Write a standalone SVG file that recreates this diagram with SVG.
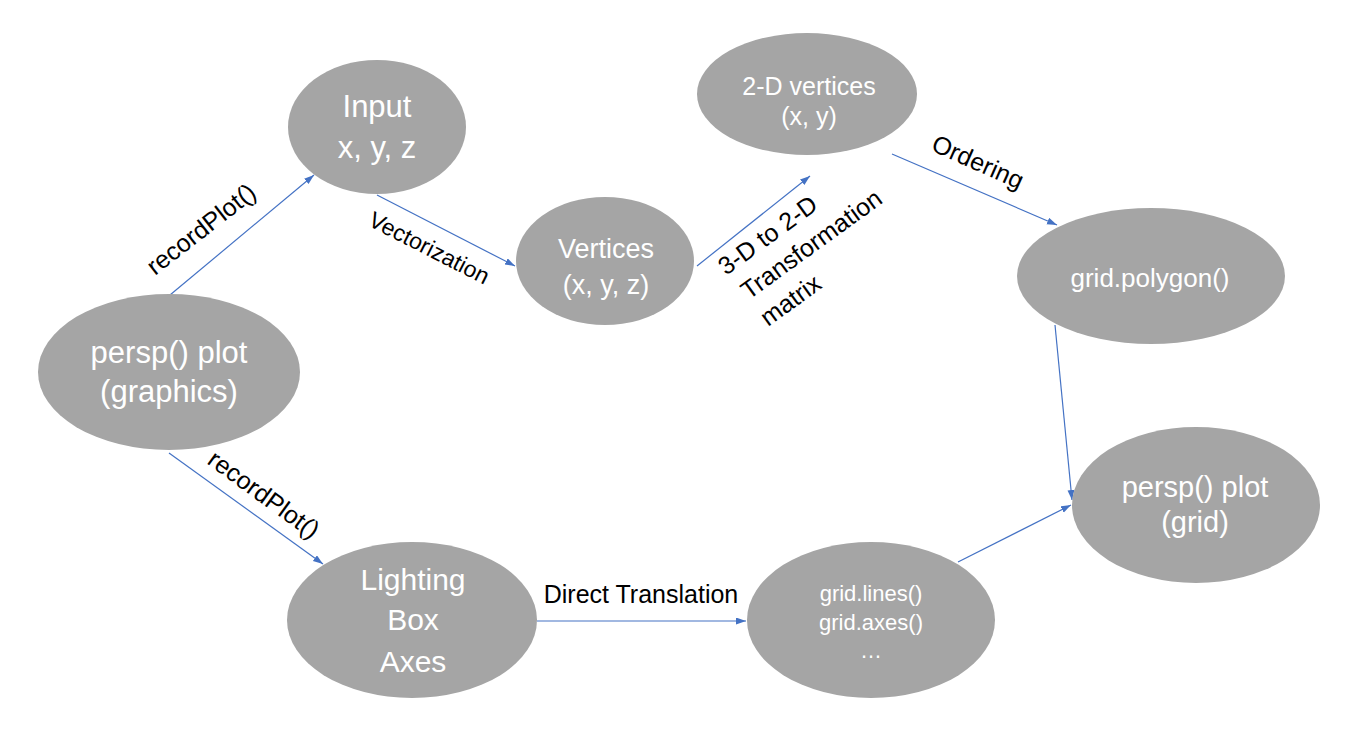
<svg xmlns="http://www.w3.org/2000/svg" width="1345" height="751" viewBox="0 0 1345 751">
<defs>
<style>
.node ellipse{fill:#a5a5a5;}
.nt{fill:#ffffff;font-family:"Liberation Sans",Arial,sans-serif;text-anchor:middle;}
.lbl{fill:#000000;font-family:"Liberation Sans",Arial,sans-serif;}
.edge{stroke:#4472c4;stroke-width:1.2;fill:none;marker-end:url(#ah);}
</style>
<marker id="ah" markerUnits="userSpaceOnUse" markerWidth="11" markerHeight="8" refX="10" refY="3.5" orient="auto">
<path d="M0,0 L10,3.5 L0,7 z" fill="#4472c4"/>
</marker>
</defs>
<rect width="1345" height="751" fill="#ffffff"/>
<g id="connectors">
<line class="edge" x1="170" y1="295" x2="314" y2="175"/>
<line class="edge" x1="377" y1="195" x2="515" y2="266"/>
<line class="edge" x1="697" y1="266" x2="810" y2="176"/>
<line class="edge" x1="892" y1="154" x2="1057" y2="225"/>
<line class="edge" x1="1055" y1="325" x2="1072" y2="500"/>
<line class="edge" x1="958" y1="562" x2="1071" y2="505"/>
<line class="edge" x1="169" y1="453" x2="323" y2="564"/>
<line class="edge" x1="537" y1="621" x2="746" y2="621"/>
</g>
<g id="labels">
<text class="lbl" font-size="25" transform="translate(155,276) rotate(-38)">recordPlot()</text>
<text class="lbl" font-size="23" transform="translate(367,225) rotate(27)">Vectorization</text>
<g transform="translate(726,276) rotate(-36)">
<text class="lbl" font-size="25" x="0" y="0">3-D to 2-D</text>
<text class="lbl" font-size="25" x="4" y="33">Transformation</text>
<text class="lbl" font-size="25" x="4" y="66">matrix</text>
</g>
<text class="lbl" font-size="25" transform="translate(930,150) rotate(24)">Ordering</text>
<text class="lbl" font-size="25" transform="translate(206,463) rotate(36)">recordPlot()</text>
<text class="lbl" font-size="25" x="641" y="603" text-anchor="middle">Direct Translation</text>
</g>
<g id="node-input" class="node">
<ellipse cx="377" cy="127" rx="89" ry="67"/>
<text class="nt" font-size="31" x="377" y="117">Input</text>
<text class="nt" font-size="31" x="377" y="158">x, y, z</text>
</g>
<g id="node-2d" class="node">
<ellipse cx="807" cy="94" rx="110" ry="61"/>
<text class="nt" font-size="25" x="809" y="95">2-D vertices</text>
<text class="nt" font-size="25" x="809" y="125">(x, y)</text>
</g>
<g id="node-vertices" class="node">
<ellipse cx="605" cy="261" rx="89" ry="64"/>
<text class="nt" font-size="27" x="606" y="258">Vertices</text>
<text class="nt" font-size="27" x="606" y="294">(x, y, z)</text>
</g>
<g id="node-polygon" class="node">
<ellipse cx="1151" cy="276" rx="134" ry="68"/>
<text class="nt" font-size="26" x="1150" y="287">grid.polygon()</text>
</g>
<g id="node-persp-grid" class="node">
<ellipse cx="1196" cy="505" rx="124" ry="78"/>
<text class="nt" font-size="29" x="1195" y="497">persp() plot</text>
<text class="nt" font-size="29" x="1195" y="532">(grid)</text>
</g>
<g id="node-persp-graphics" class="node">
<ellipse cx="169" cy="372" rx="131" ry="78"/>
<text class="nt" font-size="31" x="169" y="363">persp() plot</text>
<text class="nt" font-size="31" x="169" y="402">(graphics)</text>
</g>
<g id="node-lighting" class="node">
<ellipse cx="412" cy="620" rx="125" ry="78"/>
<text class="nt" font-size="30" x="413" y="590">Lighting</text>
<text class="nt" font-size="30" x="413" y="630">Box</text>
<text class="nt" font-size="30" x="413" y="672">Axes</text>
</g>
<g id="node-gridlines" class="node">
<ellipse cx="871" cy="620" rx="124" ry="78"/>
<text class="nt" font-size="22" x="871" y="601">grid.lines()</text>
<text class="nt" font-size="22" x="871" y="630">grid.axes()</text>
<text class="nt" font-size="22" x="871" y="658">…</text>
</g>
</svg>
